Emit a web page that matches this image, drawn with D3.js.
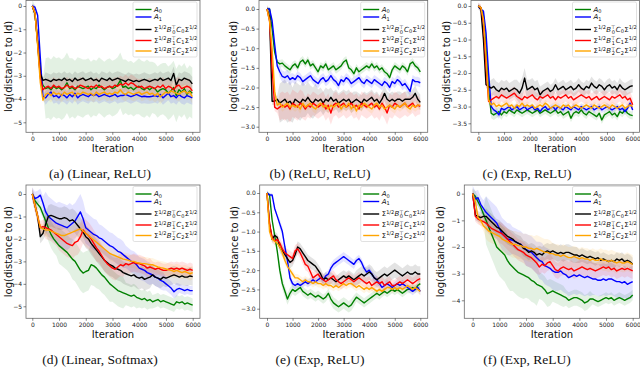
<!DOCTYPE html>
<html>
<head>
<meta charset="utf-8">
<script src="https://cdn.jsdelivr.net/npm/d3@7"></script>
<style>
  html, body { margin: 0; padding: 0; background: #fff; }
</style>
</head>
<body>
<div id="container"></div>
<script>
'use strict';

const w = 640;
const h = 367;

// iterations: every 100 steps
const iterations = d3.range(0, 6001, 100);
const xTicks = [0, 1000, 2000, 3000, 4000, 5000, 6000];

const seriesNames = ['A0', 'A1', 'S0', 'S1', 'S2'];
const seriesColors = ['#008000', '#0000ff', '#000000', '#ff0000', '#ffa500'];

// (a) Linear, ReLU
const a_A0 = [0, -0.3, -1.6, -3.0, -3.4, -3.55, -3.5, -3.6, -3.45, -3.55,
  -3.5, -3.6, -3.5, -3.3, -3.55, -3.5, -3.6, -3.45, -3.5, -3.55,
  -3.5, -3.45, -3.6, -3.5, -3.55, -3.4, -3.5, -3.6, -3.5, -3.45,
  -3.55, -3.5, -3.4, -3.2, -3.5, -3.45, -3.55, -3.5, -3.6, -3.5,
  -3.45, -3.55, -3.6, -3.5, -3.6, -3.5, -3.55, -3.7, -3.6, -3.55,
  -3.6, -3.75, -3.65, -3.5, -3.85, -3.6, -3.7, -3.55, -3.8, -3.65, -3.75];
const a_A1 = [0, -0.05, -0.4, -2.2, -3.9, -3.95, -3.8, -3.7, -3.9, -3.85,
  -3.95, -3.8, -3.85, -3.95, -3.8, -3.9, -3.75, -3.95, -3.85, -3.8,
  -3.85, -3.9, -3.8, -3.85, -3.8, -3.9, -3.85, -3.8, -3.85, -3.9,
  -3.85, -3.8, -3.9, -3.85, -3.85, -3.8, -3.85, -3.9, -3.85, -3.8,
  -3.85, -3.9, -3.88, -3.9, -3.9, -3.88, -3.85, -3.9, -3.8, -3.95,
  -3.85, -3.75, -3.9, -3.85, -3.95, -3.8, -3.9, -3.95, -3.85, -3.9, -3.95];
const a_S0 = [0, -0.35, -1.5, -2.9, -3.2, -3.15, -3.2, -3.25, -3.15, -3.2,
  -3.15, -3.2, -3.1, -3.2, -3.15, -3.25, -3.1, -3.2, -3.15, -3.1,
  -3.2, -3.15, -3.1, -3.2, -3.15, -3.25, -3.1, -3.15, -3.2, -3.1,
  -3.2, -3.15, -3.1, -3.15, -3.2, -3.25, -3.15, -3.2, -3.25, -3.2,
  -3.25, -3.2, -3.15, -3.2, -3.25, -3.2, -3.15, -3.2, -3.1, -3.2,
  -3.15, -3.1, -3.2, -2.9, -3.4, -3.15, -3.2, -3.1, -3.15, -3.2, -3.35];
const a_S1 = [0, -0.3, -1.6, -3.1, -3.6, -3.5, -3.45, -3.55, -3.4, -3.5,
  -3.45, -3.55, -3.5, -3.4, -3.5, -3.45, -3.55, -3.5, -3.4, -3.45,
  -3.5, -3.55, -3.45, -3.5, -3.4, -3.5, -3.45, -3.55, -3.5, -3.45,
  -3.5, -3.4, -3.45, -3.35, -3.4, -3.3, -3.4, -3.3, -3.35, -3.45,
  -3.5, -3.45, -3.55, -3.5, -3.45, -3.5, -3.55, -3.45, -3.5, -3.4,
  -3.55, -3.45, -3.5, -3.6, -3.45, -3.4, -3.55, -3.5, -3.45, -3.5, -3.65];
const a_S2 = [0, -0.3, -1.7, -3.3, -4.05, -3.8, -3.75, -3.85, -3.7, -3.8,
  -3.75, -3.85, -3.7, -3.8, -3.75, -3.7, -3.85, -3.75, -3.8, -3.7,
  -3.75, -3.8, -3.75, -3.85, -3.7, -3.8, -3.75, -3.7, -3.8, -3.75,
  -3.8, -3.7, -3.75, -3.6, -3.75, -3.8, -3.7, -3.75, -3.8, -3.75,
  -3.7, -3.8, -3.75, -3.7, -3.8, -3.75, -3.85, -3.75, -3.9, -3.8,
  -3.7, -3.75, -3.65, -3.7, -3.75, -3.8, -3.7, -3.65, -3.75, -3.7, -3.9];
// spread per 500 iterations
const a_sd = [
  [0.3, 1.3, 1.3, 1.25, 1.2, 1.2, 1.2, 1.15, 1.2, 1.1, 1.15, 1.1, 1.1],
  [0.1, 0.3, 0.3, 0.3, 0.3, 0.3, 0.3, 0.3, 0.3, 0.3, 0.3, 0.3, 0.3],
  [0.1, 0.3, 0.3, 0.3, 0.3, 0.3, 0.3, 0.3, 0.3, 0.3, 0.3, 0.3, 0.3],
  [0.1, 0.35, 0.35, 0.35, 0.35, 0.35, 0.35, 0.35, 0.35, 0.35, 0.35, 0.35, 0.35],
  [0.1, 0.3, 0.3, 0.3, 0.3, 0.3, 0.3, 0.3, 0.3, 0.3, 0.3, 0.3, 0.3]
];

// (b) ReLU, ReLU
const b_A0 = [0, 0, -0.5, -1.1, -1.35, -1.4, -1.38, -1.45, -1.5, -1.55,
  -1.45, -1.4, -1.5, -1.35, -1.3, -1.4, -1.3, -1.45, -1.4, -1.5,
  -1.6, -1.45, -1.5, -1.4, -1.55, -1.5, -1.45, -1.55, -1.5, -1.45,
  -1.35, -1.3, -1.5, -1.55, -1.65, -1.5, -1.6, -1.55, -1.5, -1.45,
  -1.5, -1.4, -1.5, -1.45, -1.55, -1.5, -1.6, -1.65, -1.75, -1.55,
  -1.45, -1.5, -1.55, -1.45, -1.5, -1.6, -1.4, -1.35, -1.45, -1.5, -1.6];
const b_A1 = [0, 0, -0.3, -0.9, -1.45, -1.6, -1.72, -1.75, -1.7, -1.8,
  -1.75, -1.8, -1.7, -1.75, -1.85, -1.8, -1.75, -1.7, -1.8, -1.85,
  -1.9, -1.8, -1.75, -1.85, -1.8, -1.7, -1.8, -1.85, -1.95, -1.8,
  -1.85, -1.75, -1.8, -1.9, -1.85, -1.8, -1.75, -1.85, -1.9, -1.8,
  -1.85, -1.9, -1.8, -1.85, -1.9, -1.95, -1.85, -1.9, -2.0, -1.85,
  -1.9, -1.8, -1.85, -1.95, -1.9, -2.0, -2.1, -1.8, -1.85, -1.85, -1.88];
const b_S0 = [0, -0.2, -2.35, -2.35, -2.3, -2.4, -2.35, -2.3, -2.4, -2.35,
  -2.45, -2.3, -2.35, -2.4, -2.3, -2.35, -2.25, -2.35, -2.4, -2.3,
  -2.35, -2.3, -2.4, -2.3, -2.35, -2.25, -2.35, -2.3, -2.4, -2.35,
  -2.3, -2.35, -2.3, -2.4, -2.35, -2.3, -2.35, -2.4, -2.3, -2.35,
  -2.3, -2.25, -2.35, -2.3, -2.4, -2.3, -2.15, -2.3, -2.35, -2.3,
  -2.35, -2.3, -2.3, -2.35, -2.3, -2.3, -2.3, -2.25, -2.15, -2.3, -2.38];
const b_S1 = [0, -0.3, -1.5, -2.5, -2.55, -2.5, -2.45, -2.5, -2.45, -2.55,
  -2.4, -2.45, -2.5, -2.4, -2.45, -2.55, -2.45, -2.5, -2.4, -2.45,
  -2.5, -2.45, -2.4, -2.55, -2.45, -2.65, -2.45, -2.4, -2.5, -2.45,
  -2.4, -2.5, -2.45, -2.4, -2.5, -2.45, -2.55, -2.4, -2.45, -2.5,
  -2.45, -2.4, -2.5, -2.45, -2.55, -2.4, -2.5, -2.65, -2.45, -2.5,
  -2.4, -2.45, -2.5, -2.45, -2.4, -2.5, -2.45, -2.4, -2.5, -2.45, -2.48];
const b_S2 = [0, -0.3, -1.0, -2.1, -2.45, -2.4, -2.5, -2.45, -2.4, -2.5,
  -2.45, -2.5, -2.45, -2.55, -2.4, -2.5, -2.45, -2.4, -2.5, -2.55,
  -2.45, -2.4, -2.5, -2.45, -2.55, -2.45, -2.5, -2.45, -2.4, -2.55,
  -2.45, -2.5, -2.4, -2.55, -2.45, -2.6, -2.45, -2.5, -2.4, -2.45,
  -2.5, -2.55, -2.45, -2.4, -2.5, -2.45, -2.55, -2.5, -2.45, -2.5,
  -2.55, -2.45, -2.5, -2.45, -2.4, -2.5, -2.55, -2.45, -2.5, -2.45, -2.45];
const b_sd = [
  [0.05, 0.1, 0.1, 0.1, 0.1, 0.1, 0.1, 0.1, 0.1, 0.1, 0.1, 0.1, 0.1],
  [0.05, 0.15, 0.12, 0.12, 0.12, 0.12, 0.12, 0.12, 0.12, 0.12, 0.12, 0.12, 0.12],
  [0.1, 0.5, 0.45, 0.4, 0.3, 0.25, 0.25, 0.2, 0.2, 0.2, 0.2, 0.2, 0.2],
  [0.1, 0.35, 0.35, 0.3, 0.3, 0.3, 0.3, 0.3, 0.3, 0.3, 0.3, 0.25, 0.2],
  [0.1, 0.12, 0.12, 0.12, 0.12, 0.12, 0.12, 0.12, 0.12, 0.12, 0.12, 0.12, 0.12]
];

// (c) Exp, ReLU
const c_A0 = [0, -0.05, -0.3, -1.2, -2.5, -3.2, -3.25, -3.2, -3.15, -3.25,
  -3.15, -3.2, -3.1, -3.15, -3.2, -3.1, -3.15, -3.2, -3.15, -3.1,
  -3.15, -3.2, -3.15, -3.1, -3.2, -3.15, -3.1, -3.15, -3.2, -3.15,
  -3.1, -3.2, -3.15, -3.25, -3.2, -3.15, -3.35, -3.2, -3.15, -3.2,
  -3.1, -3.2, -3.25, -3.15, -3.2, -3.25, -3.3, -3.2, -3.4, -3.25,
  -3.2, -3.15, -3.25, -3.2, -3.3, -3.15, -3.2, -3.1, -3.2, -3.25, -3.27];
const c_A1 = [0, -0.1, -0.15, -0.8, -2.0, -3.0, -3.1, -3.15, -3.25, -3.05,
  -3.1, -3.05, -3.0, -3.1, -3.05, -3.0, -3.1, -3.05, -3.0, -3.1,
  -3.05, -3.0, -3.1, -3.05, -3.15, -3.05, -3.0, -3.1, -3.05, -3.0,
  -3.1, -3.0, -3.05, -3.1, -3.0, -3.05, -3.1, -3.0, -3.05, -3.1,
  -3.0, -3.05, -3.1, -3.05, -3.0, -3.1, -3.05, -3.0, -3.1, -3.05,
  -3.0, -3.05, -3.1, -3.05, -3.0, -3.1, -3.05, -3.15, -3.05, -2.9, -3.1];
const c_S0 = [0, -0.1, -1.0, -2.35, -2.4, -2.45, -2.4, -2.5, -2.55, -2.45,
  -2.5, -2.45, -2.55, -2.5, -2.45, -2.5, -2.6, -2.45, -2.15, -2.5,
  -2.45, -2.4, -2.5, -2.45, -2.65, -2.55, -2.5, -2.45, -2.55, -2.5,
  -2.35, -2.5, -2.45, -2.4, -2.5, -2.45, -2.4, -2.5, -2.45, -2.35,
  -2.45, -2.5, -2.4, -2.45, -2.3, -2.4, -2.45, -2.35, -2.4, -2.5,
  -2.4, -2.35, -2.45, -2.4, -2.5, -2.35, -2.45, -2.5, -2.45, -2.4, -2.38];
const c_S1 = [0, -0.05, -0.5, -1.8, -2.85, -2.8, -2.75, -2.7, -2.75, -2.65,
  -2.7, -2.75, -2.7, -2.65, -2.6, -2.7, -2.75, -2.8, -2.7, -2.75,
  -2.7, -2.65, -2.75, -2.8, -2.7, -2.75, -2.7, -2.65, -2.75, -2.7,
  -2.8, -2.7, -2.75, -2.7, -2.65, -2.75, -2.7, -2.8, -2.75, -2.7,
  -2.65, -2.7, -2.75, -2.7, -2.8, -2.75, -2.7, -2.8, -2.75, -2.7,
  -2.75, -2.8, -2.7, -2.75, -2.7, -2.65, -2.75, -2.7, -2.8, -2.75, -2.95];
const c_S2 = [0, -0.05, -0.4, -1.5, -2.8, -2.95, -2.9, -3.0, -2.95, -3.0,
  -2.95, -2.9, -3.0, -2.95, -3.05, -2.95, -3.0, -2.9, -3.0, -2.95,
  -3.0, -2.95, -3.05, -3.0, -2.95, -3.0, -2.9, -2.95, -3.05, -3.0,
  -2.95, -3.0, -3.05, -2.95, -3.0, -2.95, -3.05, -3.0, -2.95, -3.0,
  -3.05, -3.0, -2.95, -3.0, -3.05, -2.95, -3.0, -3.05, -3.0, -2.95,
  -3.0, -3.05, -2.95, -3.0, -3.05, -3.0, -2.95, -3.05, -3.0, -2.95, -3.0];
const c_sd = [
  [0.05, 0.15, 0.12, 0.12, 0.12, 0.12, 0.12, 0.12, 0.12, 0.12, 0.12, 0.12, 0.12],
  [0.05, 0.12, 0.1, 0.1, 0.1, 0.1, 0.1, 0.1, 0.1, 0.1, 0.1, 0.1, 0.1],
  [0.1, 0.25, 0.25, 0.3, 0.25, 0.2, 0.2, 0.2, 0.2, 0.2, 0.2, 0.2, 0.2],
  [0.1, 0.2, 0.2, 0.2, 0.2, 0.2, 0.2, 0.2, 0.2, 0.2, 0.2, 0.2, 0.2],
  [0.05, 0.1, 0.1, 0.1, 0.1, 0.1, 0.1, 0.1, 0.1, 0.1, 0.1, 0.1, 0.1]
];

// (d) Linear, Softmax
const d_A0 = [0, -0.3, -0.45, -0.6, -0.9, -1.2, -1.5, -1.8, -2.0, -2.15,
  -2.3, -2.4, -2.5, -2.6, -2.75, -2.9, -3.0, -3.2, -3.4, -3.52,
  -3.45, -3.4, -3.15, -3.2, -3.3, -3.45, -3.6, -3.7, -3.85, -4.0,
  -4.1, -4.2, -4.3, -4.35, -4.4, -4.45, -4.5, -4.55, -4.5, -4.6,
  -4.65, -4.7, -4.65, -4.75, -4.7, -4.8, -4.75, -4.7, -4.8, -4.75,
  -4.8, -4.85, -4.9, -4.95, -4.8, -4.85, -4.8, -4.9, -4.85, -4.9, -4.95];
const d_A1 = [0, -0.2, -0.15, -0.05, -0.4, -0.8, -1.0, -1.1, -1.2, -1.3,
  -1.35, -1.4, -1.45, -1.5, -1.4, -1.3, -1.2, -1.0, -0.8, -1.1,
  -1.5, -1.6, -1.7, -1.8, -1.85, -1.95, -2.0, -2.1, -2.2, -2.3,
  -2.35, -2.45, -2.55, -2.6, -2.7, -2.8, -2.9, -3.0, -3.05, -3.15,
  -3.3, -3.35, -3.4, -3.5, -3.55, -3.6, -3.7, -3.75, -3.85, -3.9,
  -4.0, -4.1, -4.2, -4.35, -4.25, -4.2, -4.25, -4.3, -4.25, -4.3, -4.3];
const d_S0 = [0, -0.5, -1.0, -1.9, -1.75, -1.35, -1.0, -0.95, -1.0, -1.05,
  -1.1, -1.1, -1.05, -1.1, -1.2, -1.15, -1.25, -1.4, -1.55, -1.7,
  -1.9, -2.0, -2.2, -2.35, -2.5, -2.65, -2.8, -2.95, -3.05, -3.15,
  -3.2, -3.3, -3.35, -3.4, -3.5, -3.55, -3.6, -3.65, -3.6, -3.7,
  -3.75, -3.7, -3.8, -3.75, -3.7, -3.6, -3.7, -3.75, -3.8, -3.7,
  -3.75, -3.7, -3.65, -3.6, -3.65, -3.7, -3.65, -3.7, -3.7, -3.65, -3.68];
const d_S1 = [0, -0.5, -1.0, -1.5, -1.45, -1.5, -1.55, -1.6, -1.7, -1.8,
  -1.9, -2.0, -2.1, -2.2, -2.25, -2.3, -2.15, -2.1, -1.9, -1.6,
  -1.75, -1.85, -2.0, -2.2, -2.4, -2.55, -2.75, -2.95, -3.1, -3.2,
  -3.3, -3.35, -3.25, -3.15, -3.2, -3.1, -3.15, -3.1, -3.05, -3.1,
  -3.1, -3.15, -3.2, -3.3, -3.25, -3.3, -3.35, -3.3, -3.35, -3.4,
  -3.4, -3.35, -3.3, -3.35, -3.3, -3.35, -3.3, -3.35, -3.4, -3.35, -3.4];
const d_S2 = [0, -0.5, -1.0, -1.5, -1.55, -1.6, -1.6, -1.65, -1.7, -1.75,
  -1.8, -1.85, -1.85, -1.8, -1.75, -1.7, -1.65, -1.6, -1.55, -1.65,
  -1.75, -1.85, -1.95, -2.05, -2.15, -2.25, -2.35, -2.45, -2.55, -2.65,
  -2.7, -2.75, -2.8, -2.85, -2.9, -2.92, -2.95, -3.0, -3.0, -3.05,
  -3.07, -3.1, -3.1, -3.12, -3.15, -3.15, -3.2, -3.25, -3.28, -3.3,
  -3.34, -3.38, -3.4, -3.45, -3.4, -3.45, -3.5, -3.45, -3.5, -3.55, -3.5];
const d_sd = [
  [0.2, 0.6, 0.8, 0.9, 0.9, 0.8, 0.7, 0.5, 0.4, 0.3, 0.3, 0.3, 0.3],
  [0.3, 0.9, 1.0, 0.8, 0.7, 0.6, 0.6, 0.5, 0.5, 0.4, 0.3, 0.2, 0.2],
  [0.3, 0.5, 0.5, 0.5, 0.5, 0.5, 0.5, 0.5, 0.5, 0.4, 0.4, 0.4, 0.4],
  [0.3, 0.5, 0.6, 0.6, 0.6, 0.5, 0.5, 0.4, 0.4, 0.3, 0.3, 0.3, 0.3],
  [0.2, 0.3, 0.3, 0.3, 0.3, 0.3, 0.3, 0.3, 0.3, 0.3, 0.3, 0.3, 0.3]
];

// (e) Exp, ReLU
const e_A0 = [0, -0.05, -0.7, -1.1, -1.5, -2.0, -2.35, -2.55, -2.75, -2.6,
  -2.5, -2.55, -2.5, -2.45, -2.55, -2.6, -2.65, -2.6, -2.65, -2.7,
  -2.65, -2.7, -2.75, -2.7, -2.6, -2.75, -2.85, -2.9, -2.95, -2.9,
  -2.85, -2.9, -2.95, -2.9, -2.8, -2.7, -2.75, -2.8, -2.85, -2.8,
  -2.75, -2.7, -2.65, -2.6, -2.65, -2.6, -2.55, -2.6, -2.55, -2.5,
  -2.55, -2.5, -2.55, -2.6, -2.55, -2.5, -2.5, -2.45, -2.5, -2.4, -2.35];
const e_A1 = [0, -0.05, -0.05, -0.4, -0.6, -0.8, -1.0, -1.4, -1.75, -2.2,
  -2.35, -2.4, -2.35, -2.4, -2.35, -2.3, -2.35, -2.3, -2.25, -2.3,
  -2.25, -2.2, -2.25, -2.15, -2.1, -1.95, -1.85, -1.8, -1.75, -1.7,
  -1.65, -1.7, -1.75, -1.8, -1.85, -1.75, -1.7, -1.8, -1.95, -2.05,
  -2.0, -2.1, -2.2, -2.25, -2.35, -2.45, -2.4, -2.35, -2.4, -2.45,
  -2.4, -2.35, -2.4, -2.35, -2.4, -2.45, -2.5, -2.55, -2.5, -2.45, -2.55];
const e_S0 = [0, -0.8, -1.2, -1.1, -1.15, -1.4, -1.5, -1.6, -1.7, -1.8,
  -1.75, -1.6, -1.4, -1.45, -1.55, -1.65, -1.75, -1.8, -1.85, -1.9,
  -2.0, -2.1, -2.25, -2.2, -2.25, -2.2, -2.25, -2.3, -2.25, -2.2,
  -2.15, -2.2, -2.15, -2.2, -2.25, -2.2, -2.15, -2.1, -2.15, -2.1,
  -2.05, -2.1, -2.2, -2.25, -2.2, -2.15, -2.1, -2.15, -2.1, -2.05,
  -2.0, -2.05, -2.1, -2.15, -2.1, -2.05, -2.1, -2.1, -2.05, -2.1, -2.1];
const e_S1 = [0, -0.8, -1.15, -1.25, -1.2, -1.3, -1.45, -1.55, -1.6, -1.65,
  -1.7, -1.5, -1.45, -1.55, -1.7, -1.85, -1.9, -2.05, -2.2, -2.15,
  -2.1, -2.2, -2.25, -2.3, -2.25, -2.2, -2.15, -2.25, -2.3, -2.35,
  -2.3, -2.25, -2.2, -2.25, -2.3, -2.25, -2.2, -2.25, -2.3, -2.35,
  -2.3, -2.4, -2.35, -2.3, -2.35, -2.3, -2.4, -2.35, -2.3, -2.4,
  -2.4, -2.35, -2.3, -2.35, -2.3, -2.25, -2.3, -2.35, -2.3, -2.25, -2.22];
const e_S2 = [0, -1.0, -1.2, -1.25, -1.3, -1.4, -1.55, -1.75, -1.9, -2.0,
  -2.1, -2.2, -2.2, -2.25, -2.3, -2.25, -2.3, -2.3, -2.35, -2.3,
  -2.35, -2.35, -2.4, -2.35, -2.4, -2.4, -2.45, -2.4, -2.45, -2.4,
  -2.35, -2.4, -2.35, -2.35, -2.4, -2.45, -2.4, -2.45, -2.5, -2.45,
  -2.5, -2.45, -2.5, -2.55, -2.5, -2.55, -2.5, -2.45, -2.45, -2.5,
  -2.45, -2.5, -2.45, -2.5, -2.45, -2.4, -2.45, -2.5, -2.45, -2.5, -2.55];
const e_sd = [
  [0.05, 0.15, 0.12, 0.12, 0.12, 0.15, 0.15, 0.12, 0.12, 0.1, 0.1, 0.1, 0.1],
  [0.05, 0.12, 0.1, 0.1, 0.1, 0.12, 0.12, 0.1, 0.1, 0.1, 0.1, 0.1, 0.1],
  [0.1, 0.15, 0.15, 0.15, 0.15, 0.15, 0.15, 0.2, 0.2, 0.2, 0.2, 0.2, 0.2],
  [0.1, 0.15, 0.15, 0.15, 0.15, 0.15, 0.15, 0.15, 0.15, 0.15, 0.15, 0.15, 0.15],
  [0.1, 0.1, 0.1, 0.1, 0.1, 0.1, 0.1, 0.1, 0.1, 0.1, 0.1, 0.1, 0.1]
];

// (f) Exp, ReLU
const f_A0 = [0, -0.1, -0.3, -0.5, -0.75, -1.0, -1.25, -1.5, -1.75, -2.0,
  -2.1, -2.2, -2.3, -2.5, -2.65, -2.75, -2.85, -2.95, -3.0, -3.05,
  -3.1, -3.15, -3.25, -3.3, -3.4, -3.45, -3.5, -3.6, -3.75, -3.7,
  -3.65, -3.7, -3.75, -3.8, -3.85, -3.9, -4.0, -3.95, -3.9, -3.9,
  -3.95, -4.0, -4.1, -4.05, -3.95, -3.95, -4.0, -4.05, -4.0, -3.95,
  -3.9, -3.95, -3.9, -4.0, -3.95, -3.9, -3.95, -4.0, -3.95, -3.9, -3.8];
const f_A1 = [0, -0.2, -0.15, -0.4, -0.55, -0.7, -0.8, -0.9, -1.0, -1.1,
  -1.3, -1.5, -1.6, -1.7, -1.72, -1.75, -1.8, -1.85, -1.9, -2.0,
  -2.1, -2.15, -2.2, -2.3, -2.4, -2.5, -2.55, -2.7, -2.75, -2.8,
  -2.9, -2.95, -2.95, -2.9, -3.0, -3.05, -3.15, -3.1, -3.05, -3.1,
  -3.05, -3.1, -3.15, -3.1, -3.15, -3.2, -3.2, -3.25, -3.25, -3.2,
  -3.25, -3.2, -3.2, -3.25, -3.3, -3.3, -3.35, -3.3, -3.4, -3.35, -3.3];
const f_S0 = [0, -0.8, -0.85, -0.9, -0.85, -0.85, -0.95, -1.05, -1.15, -1.25,
  -1.3, -1.4, -1.5, -1.6, -1.65, -1.7, -1.8, -1.85, -1.9, -2.05,
  -2.1, -2.2, -2.15, -2.2, -2.3, -2.25, -2.3, -2.2, -2.15, -2.2,
  -2.15, -2.2, -2.25, -2.2, -2.25, -2.2, -2.2, -2.25, -2.3, -2.3,
  -2.35, -2.3, -2.35, -2.4, -2.35, -2.4, -2.45, -2.4, -2.5, -2.45,
  -2.5, -2.55, -2.5, -2.55, -2.45, -2.5, -2.45, -2.55, -2.5, -2.55, -2.65];
const f_S1 = [0, -0.85, -0.95, -1.0, -1.05, -1.1, -1.2, -1.3, -1.35, -1.4,
  -1.45, -1.5, -1.6, -1.7, -1.8, -1.9, -2.0, -2.1, -2.15, -2.2,
  -2.3, -2.35, -2.4, -2.5, -2.6, -2.75, -2.65, -2.7, -2.6, -2.55,
  -2.7, -2.85, -2.9, -2.8, -2.75, -2.8, -2.85, -2.8, -2.9, -2.85,
  -2.8, -2.75, -2.8, -2.85, -2.8, -2.85, -2.9, -2.85, -2.8, -2.75,
  -2.8, -2.75, -2.85, -2.8, -2.9, -2.85, -2.8, -2.85, -2.8, -2.85, -2.9];
const f_S2 = [0, -0.3, -0.9, -1.0, -1.2, -1.3, -1.4, -1.45, -1.5, -1.55,
  -1.6, -1.7, -1.75, -1.8, -1.85, -1.9, -1.9, -1.95, -1.95, -2.0,
  -2.0, -2.05, -2.05, -2.1, -2.05, -2.1, -2.15, -2.2, -2.2, -2.25,
  -2.25, -2.3, -2.3, -2.35, -2.3, -2.35, -2.4, -2.4, -2.35, -2.4,
  -2.45, -2.4, -2.45, -2.45, -2.5, -2.45, -2.5, -2.5, -2.45, -2.5,
  -2.5, -2.55, -2.5, -2.55, -2.6, -2.55, -2.6, -2.6, -2.55, -2.6, -2.65];
const f_sd = [
  [0.2, 0.9, 1.0, 0.9, 0.8, 0.5, 0.4, 0.3, 0.3, 0.2, 0.2, 0.2, 0.2],
  [0.3, 0.6, 0.6, 0.5, 0.6, 0.7, 0.7, 0.7, 0.7, 0.6, 0.6, 0.6, 0.6],
  [0.2, 0.3, 0.3, 0.3, 0.3, 0.3, 0.3, 0.3, 0.25, 0.25, 0.25, 0.25, 0.25],
  [0.2, 0.3, 0.4, 0.4, 0.4, 0.3, 0.3, 0.3, 0.3, 0.3, 0.3, 0.3, 0.3],
  [0.2, 0.4, 0.5, 0.5, 0.5, 0.5, 0.4, 0.4, 0.4, 0.4, 0.4, 0.35, 0.35]
];

const yTicksA = [0, -1, -2, -3, -4, -5];
const yTicksB = [0, -0.5, -1, -1.5, -2, -2.5, -3];
const yTicksC = [0, -0.5, -1, -1.5, -2, -2.5, -3, -3.5];
const yTicksF = [0, -1, -2, -3, -4];

const captions = ['(a) (Linear, ReLU)', '(b) (ReLU, ReLU)', '(c) (Exp, ReLU)',
  '(d) (Linear, Softmax)', '(e) (Exp, ReLU)', '(f) (Exp, ReLU)'];

// layout: frame box, pixel of x=0 / x=6000, pixel of y=0 / y=last tick
const panels = [
  { series: [a_A0, a_A1, a_S0, a_S1, a_S2], sd: a_sd, yTicks: yTicksA, fmt: 'd',
    left: 26, right: 200, top: 0.5, bottom: 132.3, x0: 32.3, x1: 192.3, y0: 6, y1: 122.3, ylab: 12 },
  { series: [b_A0, b_A1, b_S0, b_S1, b_S2], sd: b_sd, yTicks: yTicksB, fmt: '.1f',
    left: 259, right: 427.7, top: 0.5, bottom: 132.3, x0: 267, x1: 420.3, y0: 9, y1: 126.7, ylab: 236.5 },
  { series: [c_A0, c_A1, c_S0, c_S1, c_S2], sd: c_sd, yTicks: yTicksC, fmt: '.1f',
    left: 471, right: 639.5, top: 0.5, bottom: 132.3, x0: 478.3, x1: 632.7, y0: 6, y1: 123.3, ylab: 449.5 },
  { series: [d_A0, d_A1, d_S0, d_S1, d_S2], sd: d_sd, yTicks: yTicksA, fmt: 'd',
    left: 26, right: 200, top: 185, bottom: 318.3, x0: 32.3, x1: 192.7, y0: 194, y1: 306.3, ylab: 12 },
  { series: [e_A0, e_A1, e_S0, e_S1, e_S2], sd: e_sd, yTicks: yTicksB, fmt: '.1f',
    left: 259.7, right: 427.7, top: 185, bottom: 318.3, x0: 267, x1: 420.3, y0: 193, y1: 308.7, ylab: 238 },
  { series: [f_A0, f_A1, f_S0, f_S1, f_S2], sd: f_sd, yTicks: yTicksF, fmt: 'd',
    left: 464.3, right: 639.5, top: 185, bottom: 318.3, x0: 472.7, x1: 632.7, y0: 193.7, y1: 300.3, ylab: 444 }
];

const svg = d3.select('#container')
  .append('svg')
  .attr('width', w)
  .attr('height', h)
  .attr('viewBox', '0 0 ' + w + ' ' + h)
  .style('font-family', '"DejaVu Sans", sans-serif');

// math-ish legend labels built from tspans
function legendLabel(text, k) {
  const small = 5;
  if (k < 2) {
    text.append('tspan').attr('font-style', 'italic').text('A');
    text.append('tspan').attr('font-size', small).attr('dy', 1.6).text(k);
    return;
  }
  const n = k - 2;
  text.append('tspan').text('Σ');
  text.append('tspan').attr('font-size', small).attr('dy', -2.8).text('1/2');
  text.append('tspan').attr('font-style', 'italic').attr('dx', 0.3).attr('dy', 2.8).text('B');
  text.append('tspan').attr('font-size', small).attr('dy', -2.8).text('⊤');
  text.append('tspan').attr('font-size', small).attr('dx', -3.8).attr('dy', 4.6).text(n);
  text.append('tspan').attr('font-style', 'italic').attr('dx', 1).attr('dy', -1.8).text('C');
  text.append('tspan').attr('font-size', small).attr('dy', 1.6).text(n);
  text.append('tspan').attr('dx', 0.3).attr('dy', -1.6).text('Σ');
  text.append('tspan').attr('font-size', small).attr('dy', -2.8).text('1/2');
}

const legendRows = [7.5, 15, 27.5, 38.5, 49];

panels.forEach((p, pi) => {
  const g = svg.append('g');
  const xScale = d3.scaleLinear().domain([0, 6000]).range([p.x0, p.x1]);
  const yLast = p.yTicks[p.yTicks.length - 1];
  const yScale = d3.scaleLinear().domain([0, yLast]).range([p.y0, p.y1]);

  const clipId = 'clip' + pi;
  g.append('clipPath').attr('id', clipId)
    .append('rect')
    .attr('x', p.left).attr('y', p.top)
    .attr('width', p.right - p.left).attr('height', p.bottom - p.top);

  const plot = g.append('g').attr('clip-path', 'url(#' + clipId + ')');

  const area = d3.area()
    .x((d) => xScale(d[0]))
    .y0((d) => yScale(d[1]))
    .y1((d) => yScale(d[2]));
  const line = d3.line()
    .x((d) => xScale(d[0]))
    .y((d) => yScale(d[1]));

  p.series.forEach((vals, si) => {
    const sd = p.sd[si];
    const band = vals.map((v, i) => [iterations[i], v - sd[Math.floor(i / 5)], v + sd[Math.floor(i / 5)]]);
    plot.append('path')
      .attr('d', area(band))
      .attr('fill', seriesColors[si])
      .attr('fill-opacity', 0.11)
      .attr('stroke', 'none');
  });
  p.series.forEach((vals, si) => {
    plot.append('path')
      .attr('d', line(vals.map((v, i) => [iterations[i], v])))
      .attr('fill', 'none')
      .attr('stroke', seriesColors[si])
      .attr('stroke-width', 1.4)
      .attr('stroke-linejoin', 'round');
  });

  // frame
  g.append('rect')
    .attr('x', p.left).attr('y', p.top)
    .attr('width', p.right - p.left).attr('height', p.bottom - p.top)
    .attr('fill', 'none')
    .attr('stroke', '#6b6b6b')
    .attr('stroke-width', 0.8);

  const xAxis = d3.axisBottom(xScale).tickValues(xTicks).tickFormat(d3.format('d'))
    .tickSize(2.5).tickPadding(1.8);
  const yAxis = d3.axisLeft(yScale).tickValues(p.yTicks).tickFormat(d3.format(p.fmt))
    .tickSize(2.5).tickPadding(1.5);

  const gx = g.append('g')
    .attr('transform', 'translate(0,' + p.bottom + ')')
    .call(xAxis);
  const gy = g.append('g')
    .attr('transform', 'translate(' + p.left + ',0)')
    .call(yAxis);
  [gx, gy].forEach((ax) => {
    ax.attr('font-family', null);
    ax.select('.domain').remove();
    ax.selectAll('line').attr('stroke', '#333').attr('stroke-width', 0.6);
    ax.selectAll('text').attr('font-size', 6).attr('fill', '#222');
  });

  g.append('text')
    .attr('x', (p.left + p.right) / 2)
    .attr('y', p.bottom + 20)
    .attr('text-anchor', 'middle')
    .attr('font-size', 10)
    .attr('fill', '#111')
    .text('Iteration');

  g.append('text')
    .attr('transform', 'translate(' + p.ylab + ',' + ((p.top + p.bottom) / 2) + ') rotate(-90)')
    .attr('text-anchor', 'middle')
    .attr('font-size', 10)
    .attr('fill', '#111')
    .text('log(distance to Id)');

  g.append('text')
    .attr('x', [100, 320, 527][pi % 3])
    .attr('y', p.bottom + 45.5)
    .attr('text-anchor', 'middle')
    .style('font-family', '"Liberation Serif", "DejaVu Serif", serif')
    .attr('font-size', 13.5)
    .attr('fill', '#111')
    .text(captions[pi]);

  // legend
  const lx = p.right - 67;
  const ly = p.top + 1.5;
  const lg = g.append('g');
  lg.append('rect')
    .attr('x', lx).attr('y', ly)
    .attr('width', 64).attr('height', 55)
    .attr('rx', 1.5)
    .attr('fill', '#fff').attr('fill-opacity', 0.85)
    .attr('stroke', '#cccccc').attr('stroke-width', 0.6);
  seriesNames.forEach((name, k) => {
    const yy = ly + legendRows[k];
    lg.append('line')
      .attr('x1', lx + 2.5).attr('x2', lx + 18.5)
      .attr('y1', yy).attr('y2', yy)
      .attr('stroke', seriesColors[k])
      .attr('stroke-width', 1.4);
    const t = lg.append('text')
      .attr('x', lx + 21)
      .attr('y', yy + 2.3)
      .attr('font-size', 7)
      .attr('fill', '#111');
    legendLabel(t, k);
  });
});
</script>
</body>
</html>
